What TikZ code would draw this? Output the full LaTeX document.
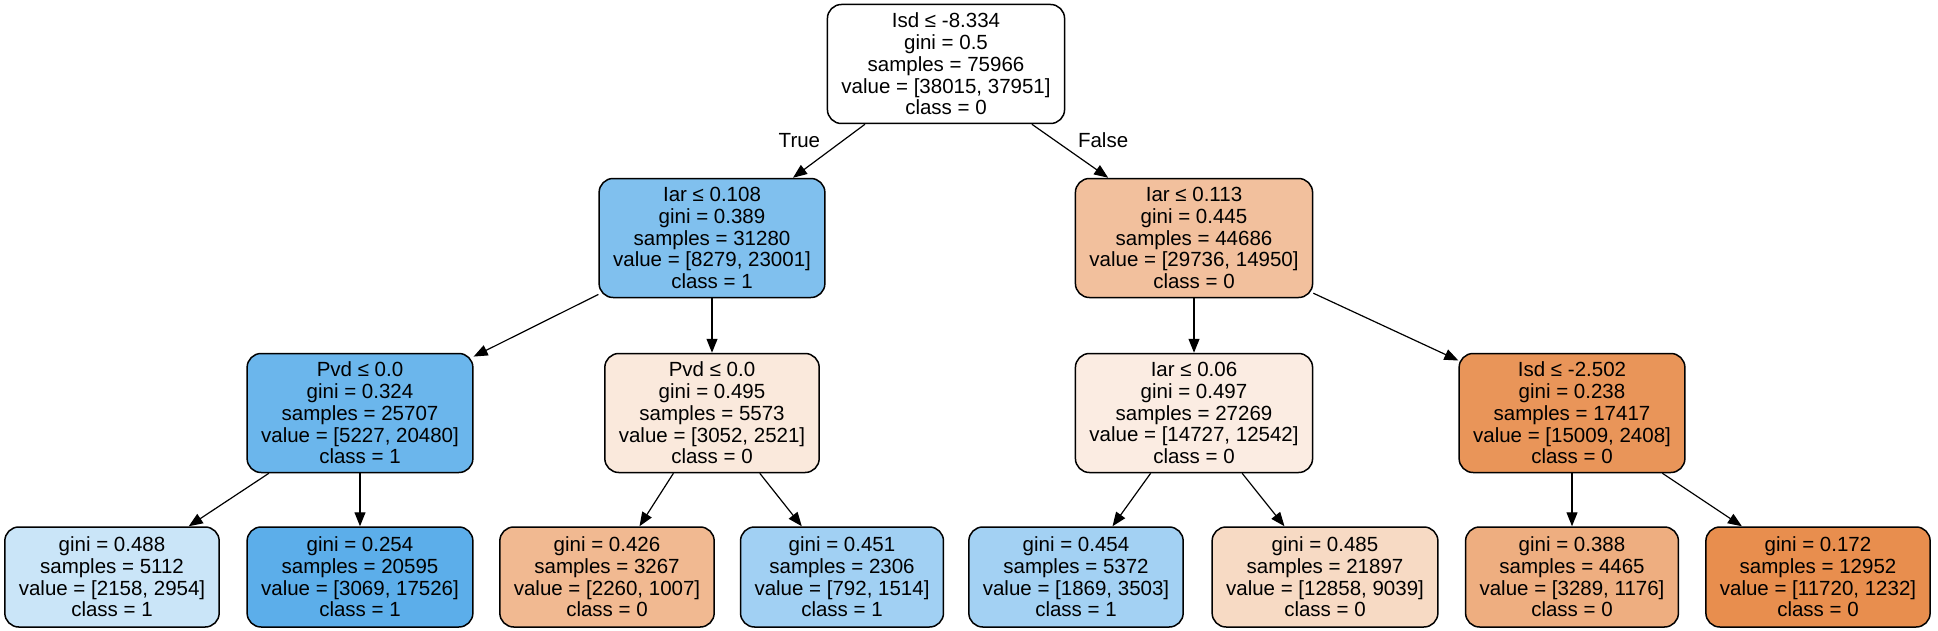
\documentclass[tikz,border=0pt]{standalone}
\usepackage{fontspec}
\setmainfont{Liberation Sans}
\usepackage{tikz}
\usetikzlibrary{arrows.meta}
\definecolor{rootfill}{RGB}{255,255,255}
\definecolor{afill}{RGB}{128,192,238}
\definecolor{bfill}{RGB}{242,192,157}
\definecolor{cfill}{RGB}{107,182,236}
\definecolor{dfill}{RGB}{250,233,220}
\definecolor{efill}{RGB}{251,236,226}
\definecolor{ffill}{RGB}{233,149,89}
\definecolor{gfill}{RGB}{202,229,248}
\definecolor{hfill}{RGB}{92,174,234}
\definecolor{ifill}{RGB}{241,185,145}
\definecolor{jfill}{RGB}{161,208,243}
\definecolor{kfill}{RGB}{163,209,243}
\definecolor{lfill}{RGB}{247,218,196}
\definecolor{mfill}{RGB}{238,174,128}
\definecolor{nfill}{RGB}{232,142,78}

\begin{document}
\begin{tikzpicture}[x=0.5pt,y=-0.5pt,
  every node/.style={font=\fontsize{10.25}{10.85}\selectfont},
  split/.style={shape=rectangle,rounded corners=7pt,draw=black,line width=0.75pt,align=center,inner xsep=7pt,inner ysep=2pt,minimum height=59.5pt},
  leaf/.style={split,minimum height=50pt},
  branch/.style={-{Triangle[length=7pt,width=5.5pt]},line width=0.6pt}]
\useasboundingbox (0,0) rectangle (1938,631);
% splits
\node[split,fill=rootfill] (root) at (946,64) {Isd ≤ -8.334\\gini = 0.5\\samples = 75966\\value = [38015, 37951]\\class = 0};
\node[split,fill=afill] (A) at (712,238) {Iar ≤ 0.108\\gini = 0.389\\samples = 31280\\value = [8279, 23001]\\class = 1};
\node[split,fill=bfill] (B) at (1194,238) {Iar ≤ 0.113\\gini = 0.445\\samples = 44686\\value = [29736, 14950]\\class = 0};
\node[split,fill=cfill] (C) at (360,413) {Pvd ≤ 0.0\\gini = 0.324\\samples = 25707\\value = [5227, 20480]\\class = 1};
\node[split,fill=dfill] (D) at (712,413) {Pvd ≤ 0.0\\gini = 0.495\\samples = 5573\\value = [3052, 2521]\\class = 0};
\node[split,fill=efill] (E) at (1194,413) {Iar ≤ 0.06\\gini = 0.497\\samples = 27269\\value = [14727, 12542]\\class = 0};
\node[split,fill=ffill] (F) at (1572,413) {Isd ≤ -2.502\\gini = 0.238\\samples = 17417\\value = [15009, 2408]\\class = 0};
% leaves
\node[leaf,fill=gfill] (G) at (112,577) {gini = 0.488\\samples = 5112\\value = [2158, 2954]\\class = 1};
\node[leaf,fill=hfill] (H) at (360,577) {gini = 0.254\\samples = 20595\\value = [3069, 17526]\\class = 1};
\node[leaf,fill=ifill] (I) at (607,577) {gini = 0.426\\samples = 3267\\value = [2260, 1007]\\class = 0};
\node[leaf,fill=jfill] (J) at (842,577) {gini = 0.451\\samples = 2306\\value = [792, 1514]\\class = 1};
\node[leaf,fill=kfill] (K) at (1076,577) {gini = 0.454\\samples = 5372\\value = [1869, 3503]\\class = 1};
\node[leaf,fill=lfill] (L) at (1325,577) {gini = 0.485\\samples = 21897\\value = [12858, 9039]\\class = 0};
\node[leaf,fill=mfill] (M) at (1572,577) {gini = 0.388\\samples = 4465\\value = [3289, 1176]\\class = 0};
\node[leaf,fill=nfill] (N) at (1818,577) {gini = 0.172\\samples = 12952\\value = [11720, 1232]\\class = 0};
% branches
\path [] (root) edge[branch] node[pos=0.3,left=8pt] {True} (A);
\path [] (root) edge[branch] node[pos=0.3,right=8pt] {False} (B);
\path [] (A) edge[branch] (C);
\path [] (A) edge[branch] (D);
\path [] (B) edge[branch] (E);
\path [] (B) edge[branch] (F);
\path [] (C) edge[branch] (G);
\path [] (C) edge[branch] (H);
\path [] (D) edge[branch] (I);
\path [] (D) edge[branch] (J);
\path [] (E) edge[branch] (K);
\path [] (E) edge[branch] (L);
\path [] (F) edge[branch] (M);
\path [] (F) edge[branch] (N);
\end{tikzpicture}
\end{document}
